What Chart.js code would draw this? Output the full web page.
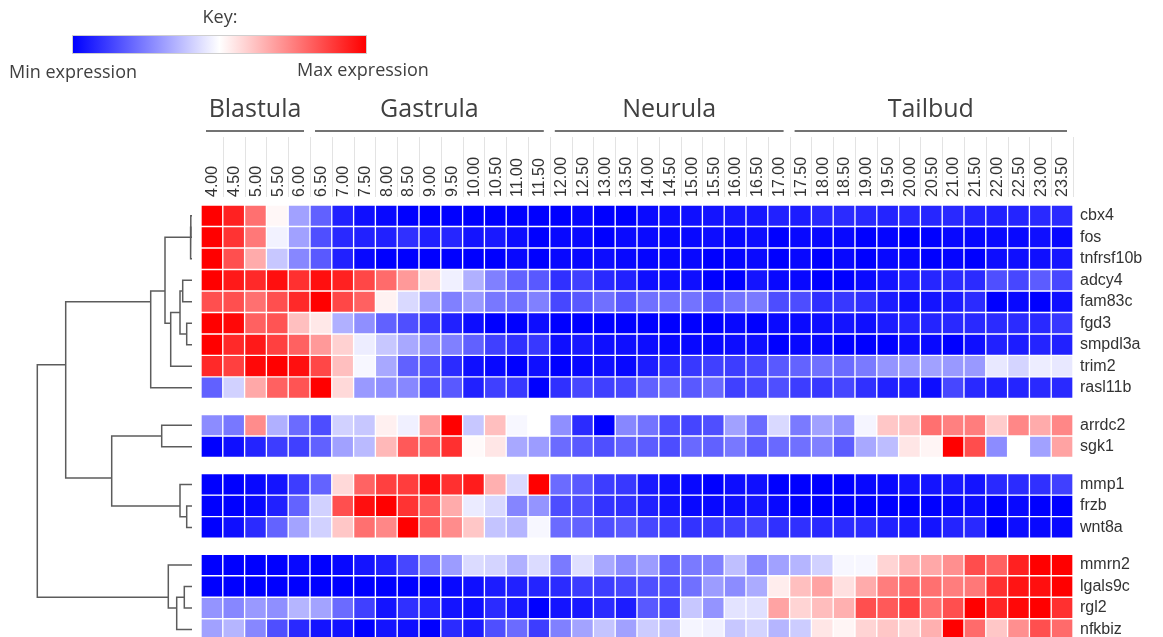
<!DOCTYPE html>
<html>
<head>
<meta charset="utf-8">
<script src="https://cdn.jsdelivr.net/npm/chart.js@4/dist/chart.umd.min.js"></script>
<style>
  html, body { margin: 0; padding: 0; background: #fff; }
  #wrap { position: relative; width: 1163px; height: 637px; overflow: hidden; }
  #heat, #tree { position: absolute; left: 0; top: 0; }
</style>
</head>
<body>
<div id="wrap">
  <canvas id="heat" width="1163" height="637"></canvas>
  <canvas id="tree" width="192" height="637"></canvas>
</div>
<script>
// Sampling times (hours post fertilisation)
const timeLabels = ['4.00','4.50','5.00','5.50','6.00','6.50','7.00','7.50','8.00','8.50',
  '9.00','9.50','10.00','10.50','11.00','11.50','12.00','12.50','13.00','13.50',
  '14.00','14.50','15.00','15.50','16.00','16.50','17.00','17.50','18.00','18.50',
  '19.00','19.50','20.00','20.50','21.00','21.50','22.00','22.50','23.00','23.50'];

// Developmental stages and the first / last time point of each
const stageNames = ['Blastula', 'Gastrula', 'Neurula', 'Tailbud'];
const stageFirst = ['4.00', '6.50', '12.00', '17.50'];
const stageLast  = ['6.00', '11.50', '17.00', '23.50'];

// Genes in dendrogram order, and the size of each cluster block
const genes = ['cbx4','fos','tnfrsf10b','adcy4','fam83c','fgd3','smpdl3a','trim2','rasl11b',
  'arrdc2','sgk1','mmp1','frzb','wnt8a','mmrn2','lgals9c','rgl2','nfkbiz'];
const clusterSizes = [9, 2, 3, 4];

// Scaled expression per gene: -1 = min (blue), 0 = mid (white), 1 = max (red)
const cbx4 = [1.0,0.87,0.56,0.03,-0.37,-0.62,-0.87,-0.94,-0.97,-1,
  -1,-1,-1,-1,-1,-1,-1,-0.97,-1,-1,
  -0.96,-0.95,-0.94,-0.92,-0.91,-0.91,-0.87,-0.89,-0.84,-0.83,
  -0.84,-0.86,-0.84,-0.85,-0.84,-0.86,-0.87,-0.86,-0.84,-0.83];
const fos = [1.0,0.8,0.53,-0.05,-0.37,-0.69,-0.84,-0.87,-0.87,-0.81,
  -0.87,-0.85,-0.92,-0.9,-0.95,-1,-0.97,-0.96,-1,-0.96,
  -0.96,-0.97,-0.97,-0.95,-0.97,-0.95,-1,-0.97,-0.97,-0.97,
  -1,-0.98,-1,-1,-0.97,-0.97,-0.96,-0.97,-0.94,-0.97];
const tnfrsf10b = [1.0,0.69,0.33,-0.22,-0.47,-0.65,-0.87,-0.97,-1,-1,
  -1,-1,-1,-1,-0.97,-1,-0.97,-0.97,-0.95,-0.97,
  -0.98,-0.97,-0.97,-1,-0.98,-0.96,-1,-0.97,-1,-0.97,
  -1,-0.97,-0.97,-1,-0.98,-1,-0.95,-0.94,-0.94,-0.91];
const adcy4 = [1.0,0.9,0.84,0.94,0.81,0.94,0.87,0.72,0.58,0.4,
  0.15,-0.06,-0.31,-0.5,-0.62,-0.65,-0.81,-0.75,-0.84,-0.87,
  -0.94,-0.94,-0.94,-1,-1,-0.92,-0.97,-0.97,-1,-1,
  -0.96,-0.92,-0.87,-0.85,-0.83,-0.83,-0.69,-0.72,-0.64,-0.72];
const fam83c = [0.69,0.69,0.56,0.69,0.84,1.0,0.72,0.62,0.05,-0.15,
  -0.37,-0.5,-0.4,-0.53,-0.56,-0.5,-0.72,-0.65,-0.56,-0.65,
  -0.56,-0.56,-0.55,-0.64,-0.55,-0.52,-0.7,-0.7,-0.81,-0.78,
  -0.81,-0.89,-0.93,-0.92,-0.89,-0.83,-1,-0.97,-1,-0.94];
const fgd3 = [1.0,0.97,0.62,0.67,0.25,0.09,-0.31,-0.44,-0.62,-0.69,
  -0.79,-0.87,-0.95,-1,-1,-0.95,-1,-1,-1,-1,
  -1,-1,-1,-1,-0.97,-1,-0.96,-0.96,-0.94,-0.92,
  -0.94,-0.89,-0.86,-0.86,-0.84,-0.84,-0.83,-0.83,-0.84,-0.78];
const smpdl3a = [1.0,0.84,0.9,0.75,0.62,0.4,0.18,-0.07,-0.22,-0.34,
  -0.45,-0.5,-0.62,-0.75,-0.81,-0.78,-0.94,-0.9,-0.94,-0.94,
  -0.95,-0.97,-0.97,-0.97,-0.95,-0.94,-1,-0.97,-0.97,-1,
  -1,-1,-0.95,-0.97,-1,-0.94,-0.87,-0.89,-0.86,-0.87];
const trim2 = [0.84,0.75,0.97,1.0,0.94,0.72,0.25,-0.03,-0.34,-0.62,
  -0.69,-0.83,-0.94,-0.97,-1,-0.94,-1,-0.97,-0.94,-0.97,
  -0.89,-0.83,-0.78,-0.75,-0.76,-0.72,-0.65,-0.61,-0.56,-0.58,
  -0.52,-0.42,-0.39,-0.37,-0.4,-0.4,-0.09,-0.17,-0.07,-0.09];
const rasl11b = [-0.62,-0.18,0.34,0.62,0.67,1.0,0.15,-0.4,-0.44,-0.47,
  -0.69,-0.65,-0.87,-0.75,-0.78,-1,-0.81,-0.72,-0.75,-0.72,
  -0.62,-0.6,-0.65,-0.59,-0.75,-0.72,-0.69,-0.76,-0.78,-0.72,
  -0.81,-0.87,-0.87,-0.95,-0.72,-0.84,-0.87,-0.86,-0.84,-0.84];
const arrdc2 = [-0.45,-0.53,0.45,-0.31,-0.58,-0.7,-0.18,-0.22,0.06,-0.06,
  0.39,1.0,-0.22,0.25,-0.03,0,-0.44,-0.83,-1,-0.47,
  -0.55,-0.7,-0.73,-0.69,-0.37,-0.58,-0.15,-0.52,-0.37,-0.44,
  -0.04,0.22,0.23,0.56,0.5,0.51,0.2,0.47,0.33,0.47];
const sgk1 = [-1,-0.94,-0.86,-0.76,-0.75,-0.62,-0.37,-0.27,0.28,0.65,
  0.62,0.81,0.02,0.1,-0.34,-0.39,-0.58,-0.65,-0.69,-0.61,
  -0.64,-0.7,-0.59,-0.62,-0.53,-0.64,-0.59,-0.56,-0.5,-0.64,
  -0.34,-0.26,0.1,0.04,1.0,0.7,-0.45,0,-0.37,0.36];
const mmp1 = [-1,-1,-0.97,-0.92,-0.76,-0.61,0.15,0.61,0.75,0.76,
  0.94,0.81,0.89,0.31,-0.15,1.0,-0.58,-0.65,-0.76,-0.78,
  -0.9,-0.94,-0.97,-1,-0.95,-0.94,-1,-1,-1,-1,
  -0.97,-0.97,-0.92,-0.92,-0.9,-0.92,-0.84,-0.83,-0.81,-0.75];
const frzb = [-1,-1,-0.97,-0.87,-0.61,-0.18,0.69,0.94,1.0,0.8,
  0.65,0.33,-0.08,-0.15,-0.48,-0.42,-0.7,-0.69,-0.8,-0.81,
  -0.87,-0.92,-0.97,-0.97,-0.94,-0.92,-0.97,-1,-1,-1,
  -1,-1,-1,-1,-0.97,-0.95,-1,-0.97,-1,-1];
const wnt8a = [-1,-0.94,-0.83,-0.61,-0.36,-0.18,0.22,0.56,0.47,1.0,
  0.64,0.45,0.22,-0.23,-0.29,-0.03,-0.58,-0.61,-0.69,-0.65,
  -0.72,-0.76,-0.8,-0.78,-0.75,-0.73,-0.81,-0.81,-0.84,-0.83,
  -0.83,-0.87,-0.89,-0.92,-0.86,-0.84,-1,-0.95,-0.97,-0.97];
const mmrn2 = [-1,-1,-1,-1,-0.97,-1,-0.97,-0.92,-0.87,-0.72,
  -0.56,-0.39,-0.14,-0.17,-0.31,-0.14,-0.52,-0.12,-0.34,-0.45,
  -0.39,-0.61,-0.52,-0.5,-0.25,-0.47,-0.37,-0.29,-0.18,-0.03,
  -0.03,0.17,0.29,0.34,0.44,0.7,0.62,0.87,1.0,1.0];
const lgals9c = [-1,-1,-1,-1,-1,-1,-1,-1,-1,-1,
  -1,-0.97,-0.94,-0.89,-0.87,-0.86,-0.83,-0.76,-0.76,-0.72,
  -0.69,-0.69,-0.56,-0.39,-0.45,-0.33,0.07,0.25,0.36,0.12,
  0.33,0.51,0.59,0.56,0.51,0.53,0.81,0.92,0.94,1.0];
const rgl2 = [-0.42,-0.47,-0.4,-0.44,-0.29,-0.36,-0.58,-0.75,-0.92,-0.81,
  -0.86,-0.92,-0.94,-0.83,-0.9,-1,-0.92,-0.9,-0.83,-0.89,
  -0.65,-0.72,-0.22,-0.42,-0.11,-0.12,0.36,0.17,0.26,0.31,
  0.69,0.65,0.75,0.56,0.69,1.0,0.86,0.97,1.0,0.81];
const nfkbiz = [-0.37,-0.29,-0.47,-0.69,-0.84,-0.92,-0.92,-1,-0.92,-0.94,
  -1,-0.83,-0.89,-0.69,-0.58,-0.76,-0.5,-0.36,-0.23,-0.37,
  -0.2,-0.26,-0.04,-0.06,-0.22,-0.17,-0.29,-0.2,0.1,0.04,
  0.17,0.22,0.17,0.31,1.0,0.58,0.22,0.44,0.69,0.58];

const expression = [cbx4, fos, tnfrsf10b, adcy4, fam83c, fgd3, smpdl3a, trim2, rasl11b,
  arrdc2, sgk1, mmp1, frzb, wnt8a, mmrn2, lgals9c, rgl2, nfkbiz];

// Hierarchical clustering (leaves 0..17, merge k creates node 18+k) and merge distances
const mergeLeft   = [0, 18, 3, 5, 20, 22, 19, 24, 9, 12, 11, 26, 25, 15, 31, 14, 30];
const mergeRight  = [1, 2, 4, 6, 21, 7, 23, 8, 10, 13, 27, 28, 29, 16, 17, 32, 33];
const mergeHeight = [1.2, 1.4, 9.3, 5.3, 12, 21.3, 27, 41.3, 30.3, 5.3, 12, 80.3, 126.3, 7.7, 15.3, 23.7, 154.7];

// ---- layout of rows: one unit per gene, a small gap between cluster blocks ----
const BLOCK_GAP = 0.75;
const Y_MAX = 20.1;
const rowTop = [];
(function () {
  let pos = 0;
  clusterSizes.forEach(n => {
    for (let i = 0; i < n; i++) { rowTop.push(pos); pos += 1; }
    pos += BLOCK_GAP;
  });
})();

function heatColor(v) {
  const t = Math.min(1, Math.abs(v));
  const c = Math.round(255 * (1 - t));
  return v < 0 ? `rgb(${c},${c},255)` : `rgb(255,${c},${c})`;
}

const TEXT = '#404040';

// Stage headings, column separators and colour key
const headerPlugin = {
  id: 'header',
  afterDraw(chart) {
    const { ctx } = chart;
    const x = chart.scales.x;
    const half = (x.getPixelForValue(1) - x.getPixelForValue(0)) / 2;
    ctx.save();

    // thin separators between time labels
    ctx.strokeStyle = '#e3e3e3';
    ctx.lineWidth = 1;
    for (let i = 1; i <= timeLabels.length; i++) {
      const px = Math.round(x.getPixelForValue(i) - half) + 0.5;
      ctx.beginPath(); ctx.moveTo(px, 137); ctx.lineTo(px, 197); ctx.stroke();
    }

    // stage brackets
    ctx.strokeStyle = '#444';
    ctx.lineWidth = 1.5;
    ctx.fillStyle = TEXT;
    ctx.font = '25px "Open Sans"';
    ctx.textAlign = 'center';
    ctx.textBaseline = 'middle';
    stageNames.forEach((name, i) => {
      const a = x.getPixelForValue(timeLabels.indexOf(stageFirst[i])) - half + 5;
      const b = x.getPixelForValue(timeLabels.indexOf(stageLast[i])) + half - 6;
      ctx.beginPath(); ctx.moveTo(a, 131); ctx.lineTo(b, 131); ctx.stroke();
      ctx.fillText(name, (a + b) / 2, 110);
    });

    // colour key
    const kx = 73, ky = 36, kw = 293, kh = 17;
    const grad = ctx.createLinearGradient(kx, 0, kx + kw, 0);
    grad.addColorStop(0, heatColor(-1));
    grad.addColorStop(0.5, heatColor(0));
    grad.addColorStop(1, heatColor(1));
    ctx.fillStyle = grad;
    ctx.fillRect(kx, ky, kw, kh);
    ctx.strokeStyle = '#cfcfcf';
    ctx.lineWidth = 1;
    ctx.strokeRect(kx - 0.5, ky - 0.5, kw + 1, kh + 1);

    ctx.fillStyle = TEXT;
    ctx.font = '18px "Open Sans"';
    ctx.textAlign = 'center';
    ctx.fillText('Key:', 220, 18);
    ctx.textAlign = 'left';
    ctx.fillText('Min expression', 9, 73);
    ctx.fillText('Max expression', 297, 71);
    ctx.restore();
  }
};

// ---- heat map: one floating-bar dataset per gene ----
const heatDatasets = genes.map((g, r) => ({
  label: g,
  data: timeLabels.map(() => [rowTop[r], rowTop[r] + 1]),
  backgroundColor: expression[r].map(heatColor),
  borderColor: 'rgba(255,255,255,0.9)',
  borderWidth: 1,
  borderSkipped: false,
  grouped: false,
  barPercentage: 1,
  categoryPercentage: 1
}));

new Chart(document.getElementById('heat'), {
  type: 'bar',
  data: { labels: timeLabels, datasets: heatDatasets },
  options: {
    responsive: false,
    devicePixelRatio: 1,
    animation: false,
    events: [],
    layout: { padding: { left: 201, top: 0, right: 0, bottom: 0 } },
    plugins: { legend: { display: false }, tooltip: { enabled: false } },
    scales: {
      x: {
        type: 'category',
        position: 'top',
        offset: true,
        grid: { display: false, drawTicks: false },
        border: { display: false },
        ticks: {
          autoSkip: false, minRotation: 90, maxRotation: 90, padding: 8, labelOffset: 20,
          color: '#333', font: { family: '"Liberation Sans", Arial', size: 16 }
        },
        afterFit: s => { s.height = 205; s.paddingLeft = 0; s.paddingRight = 0; }
      },
      y: {
        type: 'linear',
        position: 'right',
        reverse: true,
        min: 0,
        max: Y_MAX,
        grid: { display: false, drawTicks: false },
        border: { display: false },
        afterBuildTicks: s => { s.ticks = rowTop.map(t => ({ value: t + 0.5 })); },
        ticks: {
          autoSkip: false, padding: 7, color: '#333',
          font: { family: '"Liberation Sans", Arial', size: 16 },
          callback: (v, i) => genes[i]
        },
        afterFit: s => { s.width = 90; s.paddingTop = 0; s.paddingBottom = 0; }
      }
    }
  },
  plugins: [headerPlugin]
});

// ---- dendrogram: each merge drawn as a bracket ----
const nodes = genes.map((g, i) => ({ leaves: [i], h: 0 }));
mergeHeight.forEach((h, k) => {
  const a = nodes[mergeLeft[k]], b = nodes[mergeRight[k]];
  nodes.push({ leaves: a.leaves.concat(b.leaves), h });
});
const nodeY = n => n.leaves.reduce((s, i) => s + rowTop[i] + 0.5, 0) / n.leaves.length;

const treeDatasets = mergeHeight.map((h, k) => {
  const a = nodes[mergeLeft[k]], b = nodes[mergeRight[k]];
  const ya = nodeY(a), yb = nodeY(b);
  return {
    data: [{ x: a.h, y: ya }, { x: h, y: ya }, { x: h, y: yb }, { x: b.h, y: yb }],
    showLine: true,
    borderColor: '#5c5c5c',
    borderWidth: 1.5,
    pointRadius: 0,
    tension: 0,
    fill: false,
    clip: false
  };
});

new Chart(document.getElementById('tree'), {
  type: 'scatter',
  data: { datasets: treeDatasets },
  options: {
    responsive: false,
    devicePixelRatio: 1,
    animation: false,
    events: [],
    layout: { padding: { left: 0, top: 205, right: 0, bottom: 0 } },
    plugins: { legend: { display: false }, tooltip: { enabled: false } },
    scales: {
      x: { type: 'linear', reverse: true, min: 0, max: 192, display: false },
      y: { type: 'linear', reverse: true, min: 0, max: Y_MAX, display: false }
    }
  }
});
</script>
</body>
</html>
